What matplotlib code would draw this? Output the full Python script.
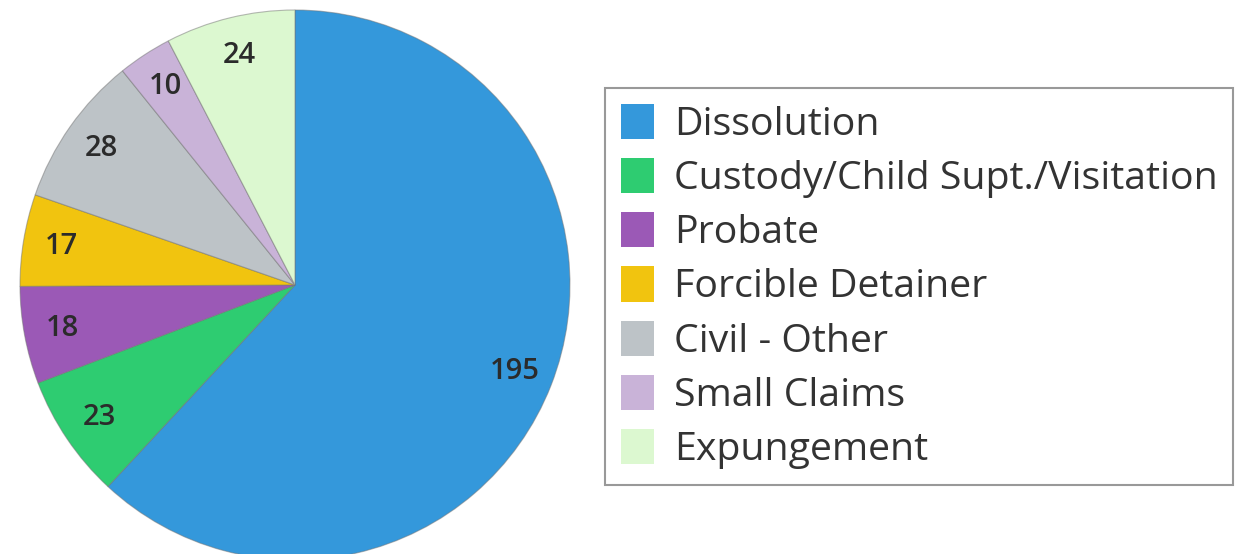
import matplotlib.pyplot as plt
from matplotlib.patches import Patch

categories = ["Dissolution", "Custody/Child Supt./Visitation", "Probate",
              "Forcible Detainer", "Civil - Other", "Small Claims", "Expungement"]
values = [195, 23, 18, 17, 28, 10, 24]
colors = ["#3498db", "#2ecc71", "#9b59b6", "#f1c40f", "#bdc3c7", "#c9b3d8", "#dcf8d0"]

plt.rcParams['font.family'] = ['Open Sans', 'DejaVu Sans']

fig = plt.figure(figsize=(12.5, 5.54), dpi=100)
ax = fig.add_axes([20/1250, -6/554, 550/1250, 550/554])

wedges, texts, autotexts = ax.pie(
    values, colors=colors, startangle=90, counterclock=False,
    autopct=lambda p: f"{round(p * sum(values) / 100):d}", pctdistance=0.86,
    wedgeprops=dict(edgecolor=(0.45, 0.45, 0.45, 0.5), linewidth=0.8),
    textprops=dict(fontsize=21, fontweight="semibold", color="#2b2b2b"))
ax.set_xlim(-1, 1)
ax.set_ylim(-1, 1)
ax.set_aspect("equal")
ax.axis("off")

handles = [Patch(facecolor=c, edgecolor="none") for c in colors]
leg = fig.legend(handles, categories, loc="upper left",
                 bbox_to_anchor=(605/1250, 1 - 88/554),
                 fontsize=28.3, fancybox=False, framealpha=1,
                 edgecolor="#999999", handlelength=0.85, handleheight=1.0,
                 handletextpad=0.5, labelspacing=0.36, borderpad=0.4,
                 borderaxespad=0)
for t in leg.get_texts():
    t.set_color("#333333")
leg.get_frame().set_linewidth(1.5)

fig.savefig("out.png", dpi=100)
